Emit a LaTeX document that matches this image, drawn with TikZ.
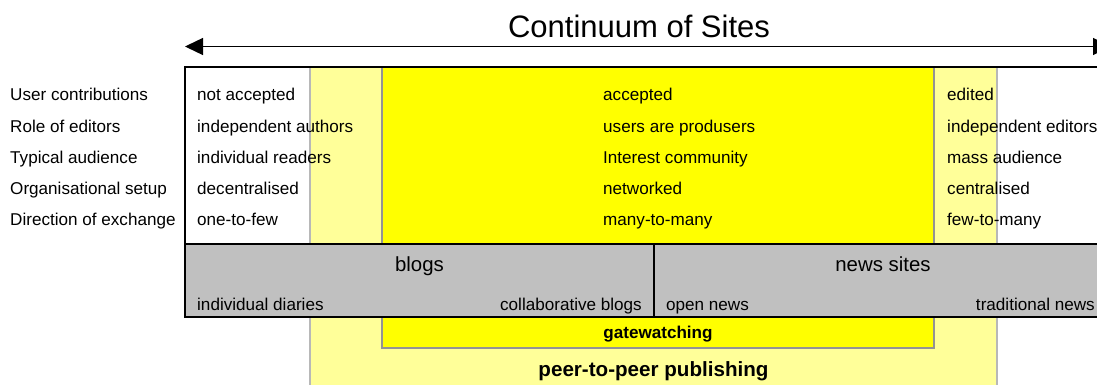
\documentclass[tikz,border=0pt]{standalone}
\usepackage{fontspec}
\setmainfont{Liberation Sans}
\usetikzlibrary{arrows.meta}
\definecolor{paleyellow}{HTML}{FFFF99}
\definecolor{fullyellow}{HTML}{FFFF00}
\definecolor{bandgray}{HTML}{C0C0C0}
\definecolor{edgegray}{HTML}{B8B8B8}
\tikzset{
 txt/.style={anchor=base west,inner sep=0pt,font=\fontsize{17.1}{20}\selectfont},
 txtr/.style={anchor=base east,inner sep=0pt,font=\fontsize{17.1}{20}\selectfont},
 head/.style={anchor=base,inner sep=0pt,font=\fontsize{20.4}{24}\selectfont},
 boldc/.style={anchor=base,inner sep=0pt,font=\bfseries\fontsize{17.1}{20}\selectfont},
 boldbig/.style={anchor=base,inner sep=0pt,font=\bfseries\fontsize{20.6}{24}\selectfont}
}
\begin{document}
\begin{tikzpicture}[x=1pt,y=-1pt]
 \useasboundingbox (0,0) rectangle (1097,385);
 % coloured zones
 \draw[edgegray,line width=1.2,fill=paleyellow](310,67) rectangle (997,392);
 \draw[edgegray!80!black,line width=1.2,fill=fullyellow](382,67) rectangle (934,348);
 % blogs / news sites band
 \draw[line width=1.3,fill=bandgray](185,244) rectangle (1112,317);
 \draw[line width=1.3](654,244)--(654,317);
 % frame of the table
 \draw[line width=1.3](1112,67)--(185,67)--(185,244);
 % continuum arrow
 \coordinate (lefttip) at (185,46.5);
 \coordinate (righttip) at (1111,46.5);
 \draw[line width=1.4,{Triangle[length=18,width=17]}-{Triangle[length=18,width=17]}](lefttip)--(righttip);
 \node[inner sep=0pt,anchor=base,font=\fontsize{31}{36}\selectfont] (title) at (639,38) {Continuum of Sites};
 % row labels
 \node[txt] (usr) at (10,100.7) {User contributions};
 \node[txt] (rol) at (10,132) {Role of editors};
 \node[txt] (aud) at (10,163.2) {Typical audience};
 \node[txt] (org) at (10,194.5) {Organisational setup};
 \node[txt] (dir) at (10,225.7) {Direction of exchange};
 % left column
 \node[txt] (usrl) at (197,100.7) {not accepted};
 \node[txt] (roll) at (197,132) {independent authors};
 \node[txt] (audl) at (197,163.2) {individual readers};
 \node[txt] (orgl) at (197,194.5) {decentralised};
 \node[txt] (dirl) at (197,225.7) {one-to-few};
 % middle column
 \node[txt] (usrm) at (603,100.7) {accepted};
 \node[txt] (rolm) at (603,132) {users are produsers};
 \node[txt] (audm) at (603,163.2) {Interest community};
 \node[txt] (orgm) at (603,194.5) {networked};
 \node[txt] (dirm) at (603,225.7) {many-to-many};
 % right column
 \node[txt] (usrr) at (947,100.7) {edited};
 \node[txt] (rolr) at (947,132) {independent editors};
 \node[txt] (audr) at (947,163.2) {mass audience};
 \node[txt] (orgr) at (947,194.5) {centralised};
 \node[txt] (dirr) at (947,225.7) {few-to-many};
 % band texts
 \node[head] (blogs) at (419.5,271.5) {blogs};
 \node[head] (news) at (883,271.5) {news sites};
 \node[txt] (diaries) at (197,310) {individual diaries};
 \node[txtr] (collab) at (642,310) {collaborative blogs};
 \node[txt] (opennews) at (666,310) {open news};
 \node[txtr] (tradnews) at (1095,310) {traditional news};
 % zone names
 \node[boldc] (gate) at (658,338.3) {gatewatching};
 \node[boldbig] (peer) at (653.5,376.7) {peer-to-peer publishing};
\end{tikzpicture}
\end{document}
